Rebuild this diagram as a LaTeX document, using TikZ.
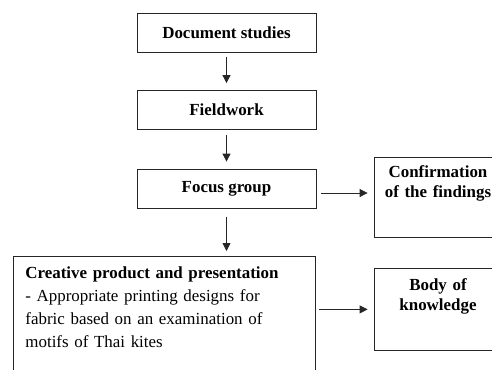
\documentclass[tikz,border=0pt]{standalone}
\usepackage{fontspec}
\setmainfont{Liberation Serif}
\usetikzlibrary{arrows.meta}

\newcommand*{\picw}{492}
\newcommand*{\pich}{369}

\begin{document}
\begin{tikzpicture}
[
	x=1bp, y=-1bp,
	stepbox/.style={rectangle,draw=black!85,line width=0.8bp,minimum width=179bp,minimum height=39bp,font=\fontsize{17}{20}\selectfont\bfseries},
	sidebox/.style={rectangle,draw=black!85,line width=0.8bp,anchor=north,text width=120bp,inner xsep=4bp,inner ysep=4bp,align=center,font=\fontsize{17}{20.5}\selectfont\bfseries},
	arr/.style={-{Triangle[length=8bp,width=8bp]},line width=0.8bp,black!85}
]

	\useasboundingbox (0,0) rectangle (\picw,\pich);
	\clip (0,0) rectangle (\picw,\pich);

	% boxes
	\node[stepbox] at (226.5,32.5) (docs) {Document studies};
	\node[stepbox] at (226.5,110) (field) {Fieldwork};
	\node[stepbox] at (226.5,188.5) (focus) {Focus group};
	\node[rectangle,draw=black!85,line width=0.8bp,anchor=north west,text width=278bp,inner xsep=12bp,inner ysep=4bp,
		text height=18bp,text depth=120bp,align=left,font=\fontsize{17}{23}\selectfont]
		at (13,256) (creative)
		{\textbf{Creative product and presentation}\\- Appropriate printing designs for\\fabric based on an examination of\\motifs of Thai kites};
	\node[sidebox,text height=16bp,text depth=56bp] at (438,157) (confirm) {Confirmation\\of the findings};
	\node[sidebox,text height=18bp,text depth=56bp] at (438,268) (body) {Body of\\knowledge};

	% arrows
	\draw[arr,shorten <=5bp,shorten >=7bp] (docs) -- (field);
	\draw[arr,shorten <=5bp,shorten >=7bp] (field) -- (focus);
	\draw[arr,shorten <=9bp,shorten >=5bp] (focus) -- (focus.south |- creative.north);
	\draw[arr,shorten <=5bp,shorten >=6bp] ([yshift=-4.5bp]focus.east) -- ([yshift=-4.5bp]focus.east -| confirm.west);
	\draw[arr,shorten <=3bp,shorten >=6bp] (creative.east |- body.west) -- (body.west);

\end{tikzpicture}
\end{document}
